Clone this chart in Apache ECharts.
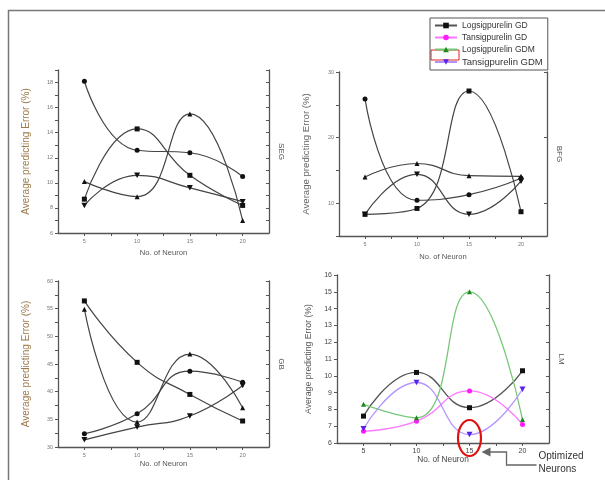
<!DOCTYPE html>
<html>
<head>
<meta charset="utf-8">
<script src="https://cdn.jsdelivr.net/npm/echarts@6/dist/echarts.min.js"></script>
<style>
html, body { margin: 0; padding: 0; background: #fff; }
#main { width: 605px; height: 480px; }
</style>
</head>
<body>
<div id="main"></div>
<script>
const neurons = [5, 10, 15, 20]
const seriesNames = ['Logsigpurelin GD', 'Tansigpurelin GD', 'Logsigpurelin GDM', 'Tansigpurelin GDM']
const panelNames = ['SEG', 'BFG', 'GB', 'LM']

// SEG
const segLogGD = [8.7, 14.3, 10.6, 8.2]
const segTanGD = [18.1, 12.6, 12.4, 10.5]
const segLogGDM = [10.1, 8.9, 15.5, 7.0]
const segTanGDM = [8.2, 10.6, 9.6, 8.5]
// BFG
const bfgLogGD = [8.3, 9.2, 27.1, 8.7]
const bfgTanGD = [25.9, 10.45, 11.3, 13.8]
const bfgLogGDM = [14.0, 16.05, 14.2, 14.1]
const bfgTanGDM = [8.3, 14.4, 8.3, 13.35]
// GB
const gbLogGD = [56.4, 45.3, 39.5, 34.7]
const gbTanGD = [32.4, 36.0, 43.7, 41.7]
const gbLogGDM = [54.9, 34.5, 46.8, 37.1]
const gbTanGDM = [31.3, 33.6, 35.6, 41.1]
// LM
const lmLogGD = [7.6, 10.2, 8.1, 10.3]
const lmTanGD = [6.7, 7.3, 9.1, 7.1]
const lmLogGDM = [8.3, 7.5, 15.0, 7.4]
const lmTanGDM = [6.85, 9.6, 6.5, 9.2]

const panelData = [
  [segLogGD, segTanGD, segLogGDM, segTanGDM],
  [bfgLogGD, bfgTanGD, bfgLogGDM, bfgTanGDM],
  [gbLogGD, gbTanGD, gbLogGDM, gbTanGDM],
  [lmLogGD, lmTanGD, lmLogGDM, lmTanGDM]
]

// y scale of each panel: min, max, tick step, label step
const yScales = [
  [6, 19, 1, 2],
  [5, 30, 5, 10],
  [30, 60, 2.5, 5],
  [6, 16, 1, 1]
]
const rightTickStep = [1, 10, 2.5, 1]

const FONT = 'Liberation Sans, Arial, sans-serif'
const symbols = ['rect', 'circle', 'triangle', 'path://M0,0 L10,0 L5,9 Z']
const markColors = ['#111111', '#ff1aff', '#1a8a1a', '#5522ee']
const lineColors = ['#555555', '#ff77ff', '#77c777', '#b394ff']

const grids = [
  { left: 58, top: 70, width: 211, height: 163 },
  { left: 339, top: 72, width: 208, height: 164 },
  { left: 58, top: 281, width: 211, height: 166 },
  { left: 337, top: 275, width: 212, height: 168 }
]

function steps (min, max, step) {
  const out = []
  for (let v = min; v <= max + 1e-9; v += step) out.push(+v.toFixed(2))
  return out
}

const xAxes = grids.map((g, i) => {
  const lm = i === 3
  const gaps = [16, 17, 13, 12]
  return {
    type: 'value', gridIndex: i, min: 2.5, max: 22.5,
    name: 'No. of Neuron', nameLocation: 'middle', nameGap: gaps[i],
    nameTextStyle: { fontSize: lm ? 8.3 : 7.6, color: lm ? '#444' : '#555', fontFamily: FONT },
    axisLine: { lineStyle: { color: '#555', width: 1.3 } },
    axisTick: { customValues: [5, 7.5, 10, 12.5, 15, 17.5, 20], length: 3, lineStyle: { color: '#555' } },
    axisLabel: { customValues: neurons, fontSize: lm ? 7 : 5.5, color: lm ? '#444' : '#777', margin: 5, fontFamily: FONT },
    splitLine: { show: false }
  }
})

const yAxes = []
grids.forEach((g, i) => {
  const [min, max, step, lstep] = yScales[i]
  const lm = i === 3
  const nameGaps = [27, 28, 27, 24]
  const nameSizes = [10, 9.6, 10, 8.7]
  const nameColors = ['#9c7b4c', '#666', '#9c7b4c', '#555']
  yAxes.push({
    type: 'value', gridIndex: i, position: 'left', min: min, max: max,
    name: 'Average predicting Error (%)', nameLocation: 'middle', nameGap: nameGaps[i],
    nameTextStyle: { fontSize: nameSizes[i], color: nameColors[i], fontFamily: FONT },
    axisLine: { show: true, lineStyle: { color: '#555', width: 1.3 } },
    axisTick: { show: true, customValues: steps(min, max, step), length: 3, lineStyle: { color: '#555' } },
    axisLabel: {
      customValues: steps(Math.ceil(min / lstep) * lstep, max, lstep),
      fontSize: lm ? 7 : 5.5, color: lm ? '#444' : '#777', margin: 5, fontFamily: FONT
    },
    splitLine: { show: false }
  })
})
grids.forEach((g, i) => {
  const [min, max] = yScales[i]
  const rs = rightTickStep[i]
  yAxes.push({
    type: 'value', gridIndex: i, position: 'right', min: min, max: max,
    name: panelNames[i], nameLocation: 'middle', nameGap: 8, nameRotate: -90,
    nameTextStyle: { fontSize: 8, color: '#555', fontFamily: FONT },
    axisLine: { show: true, lineStyle: { color: '#555', width: 1.3 } },
    axisTick: { show: true, inside: true, customValues: steps(Math.ceil(min / rs) * rs, max, rs), length: 3, lineStyle: { color: '#555' } },
    axisLabel: { show: false },
    splitLine: { show: false }
  })
})

const series = []
panelData.forEach((rows, p) => {
  rows.forEach((vals, k) => {
    const lm = p === 3
    series.push({
      type: 'line',
      name: lm ? seriesNames[k] : panelNames[p] + ' ' + seriesNames[k],
      xAxisIndex: p, yAxisIndex: p,
      data: neurons.map((n, j) => [n, vals[j]]),
      smooth: 0.5,
      symbol: symbols[k],
      symbolSize: k === 3 ? [6, 5.5] : 5,
      showSymbol: true,
      itemStyle: { color: lm ? markColors[k] : '#111' },
      lineStyle: { color: lm ? lineColors[k] : '#444', width: lm ? 1.3 : 1.2 },
      emphasis: { disabled: true },
      z: 3
    })
  })
})

const chart = echarts.init(document.getElementById('main'), null, { renderer: 'canvas' })
chart.setOption({
  animation: false,
  backgroundColor: '#fff',
  grid: grids.map(g => Object.assign({ outerBoundsMode: 'none', containLabel: false }, g)),
  xAxis: xAxes,
  yAxis: yAxes,
  legend: {
    orient: 'vertical', left: 430, top: 18,
    padding: [3, 5, 3, 4], itemGap: 3, itemWidth: 22, itemHeight: 7,
    borderColor: '#555', borderWidth: 1,
    textStyle: { fontSize: 8.5, color: '#333', fontFamily: FONT },
    data: seriesNames.map((n, k) => k === 3 ? { name: n, textStyle: { fontSize: 9.5 } } : n)
  },
  series: series
})

// annotation around the optimized point (15 neurons, LM panel)
const p = chart.convertToPixel({ xAxisIndex: 3, yAxisIndex: 3 }, [15, 6])
const cx = p[0]
const cy = p[1] - 5
chart.setOption({
  graphic: [
    { type: 'line', shape: { x1: 8, y1: 10.5, x2: 605, y2: 10.5 }, style: { stroke: '#777', lineWidth: 1.5 } },
    { type: 'line', shape: { x1: 8.5, y1: 10, x2: 8.5, y2: 480 }, style: { stroke: '#777', lineWidth: 1.5 } },
    { type: 'rect', shape: { x: 431, y: 50, width: 28, height: 10 }, style: { fill: 'none', stroke: '#e02020', lineWidth: 1 } },
    { type: 'ellipse', shape: { cx: cx, cy: cy, rx: 11.5, ry: 18 }, style: { fill: 'none', stroke: '#e01010', lineWidth: 2.2 }, z: 10 },
    { type: 'polyline', shape: { points: [[cx + 20, cy + 14], [cx + 37, cy + 14], [cx + 37, cy + 27], [cx + 67, cy + 27]] }, style: { fill: 'none', stroke: '#666', lineWidth: 1.3 }, z: 10 },
    { type: 'polygon', shape: { points: [[cx + 12, cy + 14], [cx + 21, cy + 9.5], [cx + 21, cy + 18.5]] }, style: { fill: '#666' }, z: 10 },
    { type: 'text', left: cx + 69, top: cy + 13, style: { text: 'Optimized', fill: '#333', font: '10px ' + FONT }, z: 10 },
    { type: 'text', left: cx + 69, top: cy + 26, style: { text: 'Neurons', fill: '#333', font: '10px ' + FONT }, z: 10 }
  ]
})
</script>
</body>
</html>
